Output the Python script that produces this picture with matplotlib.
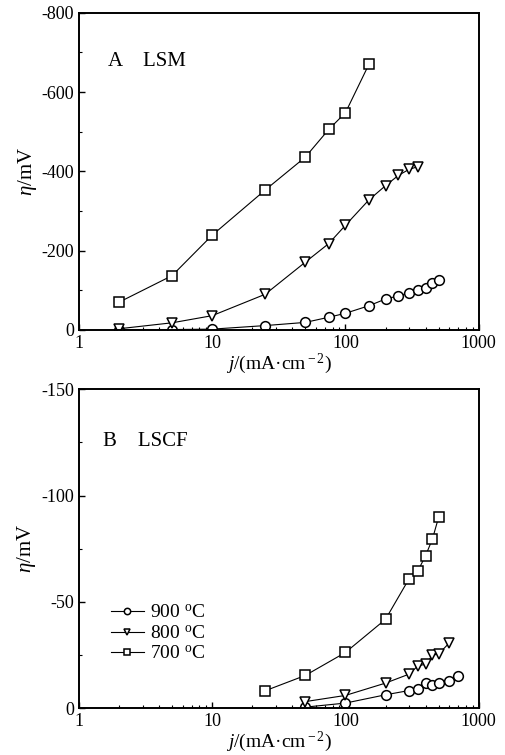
import numpy as np
import matplotlib
matplotlib.use("Agg")
import matplotlib.pyplot as plt
from matplotlib.ticker import MultipleLocator, LogLocator, NullFormatter

plt.rcParams['font.family'] = ['Liberation Serif', 'DejaVu Serif']
plt.rcParams['mathtext.fontset'] = 'custom'
plt.rcParams['mathtext.rm'] = 'Liberation Serif'
plt.rcParams['mathtext.it'] = 'Liberation Serif:italic'
plt.rcParams['axes.unicode_minus'] = False

# A  LSM
lsm_j_700 = [2, 5, 10, 25, 50, 75, 100, 150]
lsm_eta_700 = [-70, -137, -239, -353, -436, -506, -548, -670]
lsm_j_800 = [2, 5, 10, 25, 50, 75, 100, 150, 200, 250, 300, 350]
lsm_eta_800 = [-3, -18, -36, -90, -171, -218, -264, -328, -364, -390, -405, -412]
lsm_j_900 = [2, 5, 10, 25, 50, 75, 100, 150, 200, 250, 300, 350, 400, 450, 500]
lsm_eta_900 = [-1, -1, -2, -11, -19, -32, -42, -61, -78, -86, -93, -100, -107, -118, -125]

# B  LSCF
lscf_j_700 = [25, 50, 100, 200, 300, 350, 400, 450, 500]
lscf_eta_700 = [-8.2, -15.4, -26.2, -41.8, -60.8, -64.6, -71.8, -79.6, -89.7]
lscf_j_800 = [50, 100, 200, 300, 350, 400, 450, 500, 600]
lscf_eta_800 = [-3.1, -6.0, -11.8, -16.0, -19.9, -20.7, -24.9, -25.5, -30.6]
lscf_j_900 = [50, 100, 200, 300, 350, 400, 450, 500, 600, 700]
lscf_eta_900 = [-0.5, -2.4, -6.3, -8.3, -9.2, -11.8, -11.1, -11.8, -12.9, -15.2]

labels = ['900 $^{\\rm o}$C', '800 $^{\\rm o}$C', '700 $^{\\rm o}$C']
markers = ['o', 'v', 's']

fig = plt.figure(figsize=(5.06, 7.55), dpi=100)
ax1 = fig.add_axes([0.156, 0.563, 0.79, 0.42])
ax2 = fig.add_axes([0.156, 0.062, 0.79, 0.4225])


def tracer(ax, series, ymax, ymaj, titre, tx, ty):
    for (j, eta), m, lab in zip(series, markers, labels):
        ax.plot(j, eta, color='black', lw=0.8, marker=m, ms=7,
                mfc='white', mec='black', mew=1.1, label=lab)
    ax.set_xscale('log')
    ax.set_xlim(1, 1000)
    ax.set_ylim(0, -ymax)
    ax.yaxis.set_major_locator(MultipleLocator(ymaj))
    ax.yaxis.set_minor_locator(MultipleLocator(ymaj / 2))
    ax.xaxis.set_major_locator(LogLocator(base=10, numticks=10))
    ax.xaxis.set_minor_locator(LogLocator(base=10, subs=np.arange(2, 10), numticks=10))
    ax.xaxis.set_minor_formatter(NullFormatter())
    ax.xaxis.set_major_formatter(plt.FuncFormatter(lambda v, p: '%d' % v))
    ax.tick_params(which='both', direction='in', top=False, right=False, labelsize=13)
    ax.tick_params(which='major', length=4, width=1)
    ax.tick_params(which='minor', length=2.5, width=0.8)
    for sp in ax.spines.values():
        sp.set_linewidth(1.4)
    ax.set_xlabel('$j$/(mA·cm$^{\\rm -2}$)', fontsize=14, labelpad=0)
    ax.set_ylabel('$\\eta$/mV', fontsize=15, labelpad=2)
    ax.text(tx, ty, titre, transform=ax.transAxes, fontsize=15, va='center')


tracer(ax1, [(lsm_j_900, lsm_eta_900), (lsm_j_800, lsm_eta_800), (lsm_j_700, lsm_eta_700)],
       800, 200, 'A    LSM', 0.072, 0.845)
tracer(ax2, [(lscf_j_900, lscf_eta_900), (lscf_j_800, lscf_eta_800), (lscf_j_700, lscf_eta_700)],
       150, 50, 'B    LSCF', 0.06, 0.837)

ax2.legend(loc='upper left', bbox_to_anchor=(0.06, 0.35), frameon=False, fontsize=14,
           handlelength=1.7, handletextpad=0.3, labelspacing=0.15, markerscale=0.65,
           borderaxespad=0)

fig.savefig('out.png', dpi=100)
